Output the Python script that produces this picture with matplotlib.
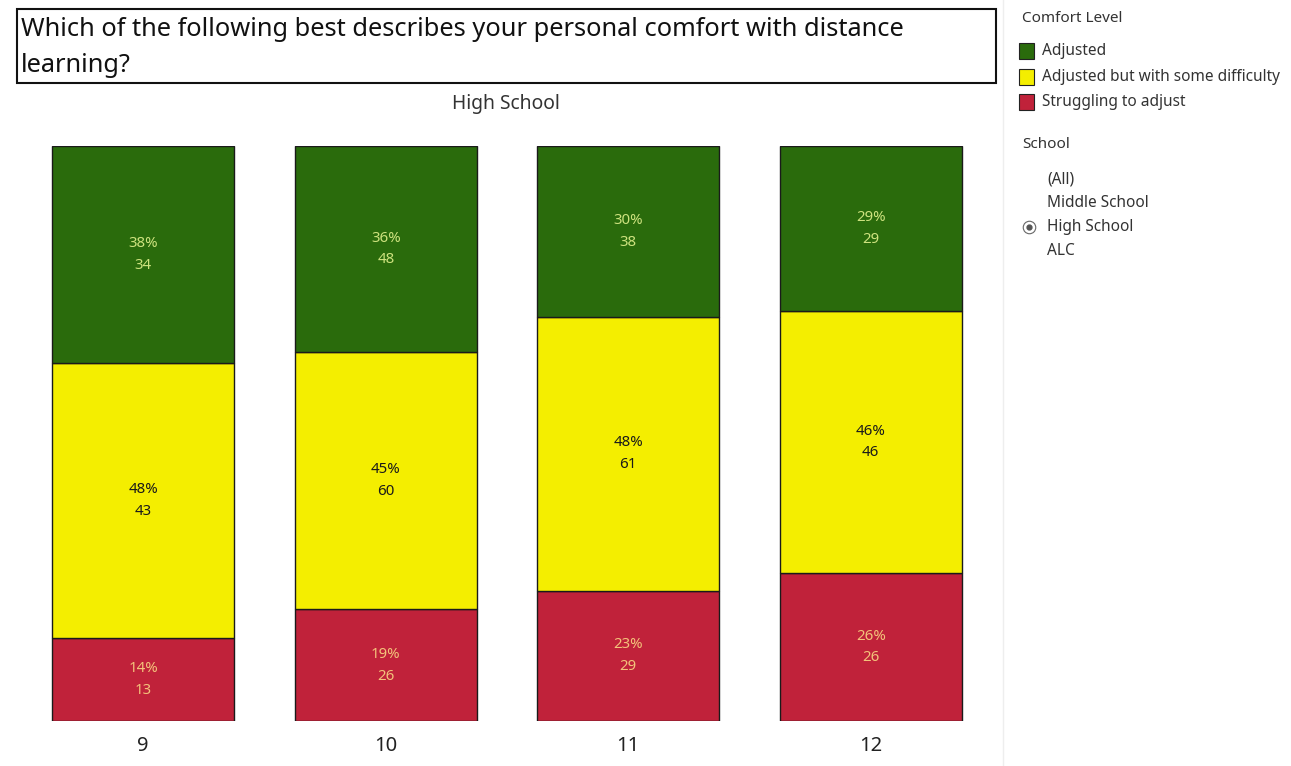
import matplotlib
matplotlib.use("Agg")
import matplotlib.pyplot as plt
from matplotlib.patches import Rectangle
import numpy as np

grades = ["9", "10", "11", "12"]
levels = ["Adjusted", "Adjusted but with some difficulty", "Struggling to adjust"]
adjusted = [34, 48, 38, 29]
some_difficulty = [43, 60, 61, 46]
struggling = [13, 26, 29, 26]
school_options = ["(All)", "Middle School", "High School", "ALC"]
selected_school = "High School"

colors = ["#2a6b0c", "#f4ee00", "#c0223a"]
label_colors = ["#cde27e", "#1a1a1a", "#f3c27a"]

plt.rcParams['font.family'] = ['Noto Sans', 'DejaVu Sans']

W, H = 1291, 766
fig = plt.figure(figsize=(W / 100, H / 100), dpi=100)
fig.patch.set_facecolor("white")

def fx(px):
    return px / W

def fy(py):
    return 1 - py / H

# axes: left 22, right 992, top 146, bottom 721
ax = fig.add_axes([fx(22), fy(721), fx(992) - fx(22), (721 - 146) / H])
series = [np.array(adjusted, float), np.array(some_difficulty, float), np.array(struggling, float)]
totals = sum(series)
x = np.arange(len(grades))
bottom = np.zeros(len(grades))
# stack from bottom: struggling, some difficulty, adjusted
order = [2, 1, 0]
for i in order:
    vals = series[i]
    pct = vals / totals * 100
    ax.bar(x, pct, bottom=bottom, width=0.75, color=colors[i], edgecolor="#1a1a1a", linewidth=1.0)
    for j in range(len(grades)):
        yc = bottom[j] + pct[j] / 2
        ax.text(x[j], yc + 1.9, f"{pct[j]:.0f}%", ha="center", va="center",
                color=label_colors[i], fontsize=10.8)
        ax.text(x[j], yc - 1.9, f"{int(vals[j])}", ha="center", va="center",
                color=label_colors[i], fontsize=10.8)
    bottom = bottom + pct

ax.set_xlim(-0.5, len(grades) - 0.5)
ax.set_ylim(0, 100)
ax.set_xticks(x)
ax.set_xticklabels(grades, fontsize=14.5, color="#222222")
ax.tick_params(axis="x", length=0, pad=11)
ax.set_yticks([])
for s in ax.spines.values():
    s.set_visible(False)

# title box
fig.patches.append(Rectangle((fx(17), fy(83)), fx(996) - fx(17), (83 - 9) / H,
                             transform=fig.transFigure, fill=False, edgecolor="#111111", linewidth=1.5))
fig.text(fx(21), fy(30), "Which of the following best describes your personal comfort with distance",
         fontsize=18.3, ha="left", va="center", color="#111111")
fig.text(fx(21), fy(65), "learning?", fontsize=18.3, ha="left", va="center", color="#111111")

fig.text(fx(506), fy(104), selected_school, fontsize=13.9, ha="center", va="center", color="#333333")

# faint separator
fig.add_artist(plt.Line2D([fx(1003), fx(1003)], [fy(0), fy(766)], color="#eeeeee", linewidth=1))

# legend
fig.text(fx(1022), fy(19), "Comfort Level", fontsize=11, ha="left", va="center", color="#333333")
leg_y = [51, 77, 102]
for k, lvl in enumerate(levels):
    fig.patches.append(Rectangle((fx(1019), fy(leg_y[k] + 8)), 15 / W, 16 / H, transform=fig.transFigure,
                                 facecolor=colors[k], edgecolor="#222222", linewidth=0.8))
    fig.text(fx(1042), fy(leg_y[k]), lvl, fontsize=11.1, ha="left", va="center", color="#333333")

fig.text(fx(1022), fy(145), "School", fontsize=11, ha="left", va="center", color="#333333")
opt_y = [179, 203, 227, 251]
for k, opt in enumerate(school_options):
    fig.text(fx(1047), fy(opt_y[k]), opt, fontsize=11.1, ha="left", va="center", color="#333333")
    if opt == selected_school:
        fig.add_artist(plt.Line2D([fx(1029)], [fy(opt_y[k])], marker="o", markersize=9,
                                  markerfacecolor="white", markeredgecolor="#666666", markeredgewidth=0.8))
        fig.add_artist(plt.Line2D([fx(1029)], [fy(opt_y[k])], marker="o", markersize=3.5,
                                  markerfacecolor="#555555", markeredgecolor="#555555"))

fig.savefig("out.png", dpi=100, facecolor="white")
